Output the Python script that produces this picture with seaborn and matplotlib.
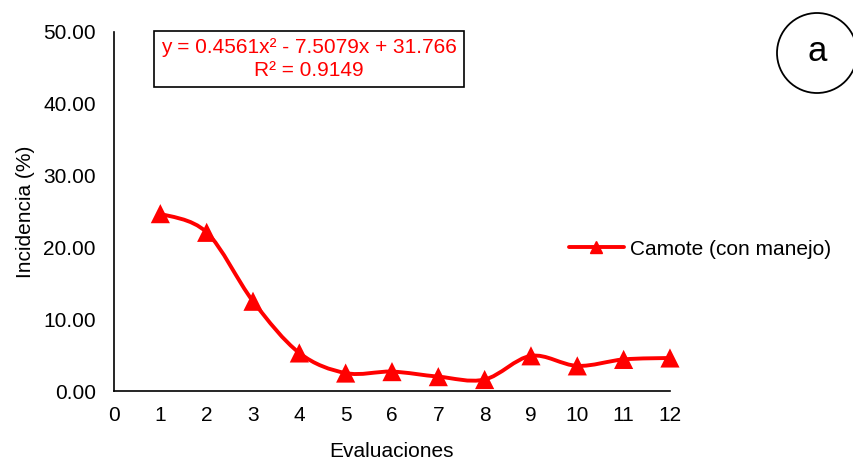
import numpy as np
import pandas as pd
import seaborn as sns
import matplotlib
matplotlib.use("Agg")
import matplotlib.pyplot as plt
from matplotlib.path import Path
from matplotlib.patches import PathPatch, Circle
from matplotlib.lines import Line2D

# Data
evaluaciones = [1, 2, 3, 4, 5, 6, 7, 8, 9, 10, 11, 12]
incidencia = [24.7, 22.1, 12.5, 5.3, 2.5, 2.7, 2.0, 1.6, 4.9, 3.5, 4.4, 4.6]
serie = "Camote (con manejo)"
ecuacion = "y = 0.4561x² - 7.5079x + 31.766\nR² = 0.9149"
y_ticks = [0, 10, 20, 30, 40, 50]
x_ticks = list(range(0, 13))

df = pd.DataFrame({"Evaluaciones": evaluaciones, "Incidencia": incidencia})

sns.set_theme(style="white")
plt.rcParams["font.family"] = ["Liberation Sans", "DejaVu Sans"]
plt.rcParams["text.color"] = "black"
plt.rcParams["axes.labelcolor"] = "black"

FS = 15
LW = 2.8
fig = plt.figure(figsize=(8.54, 4.63), dpi=100)
ax = fig.add_axes([0.1335, 0.1555, 0.651, 0.7754])

# Smoothed connecting line (Catmull-Rom style Bezier segments through the points)
pts = np.column_stack([df["Evaluaciones"].to_numpy(float), df["Incidencia"].to_numpy(float)])
verts = [tuple(pts[0])]
codes = [Path.MOVETO]
n = len(pts)
for i in range(n - 1):
    p0 = pts[i - 1] if i > 0 else pts[i]
    p1 = pts[i]
    p2 = pts[i + 1]
    p3 = pts[i + 2] if i + 2 < n else pts[i + 1]
    c1 = p1 + (p2 - p0) / 6.0
    c2 = p2 - (p3 - p1) / 6.0
    verts += [tuple(c1), tuple(c2), tuple(p2)]
    codes += [Path.CURVE4, Path.CURVE4, Path.CURVE4]
ax.add_patch(PathPatch(Path(verts, codes), fill=False, edgecolor="#ff0000",
                       linewidth=LW, zorder=2, capstyle="round", joinstyle="round",
                       clip_on=False))

sns.scatterplot(data=df, x="Evaluaciones", y="Incidencia", marker="^", s=190,
                color="#ff0000", edgecolor="none", zorder=3, ax=ax, legend=False,
                clip_on=False)

ax.set_xlim(0, 12)
ax.set_ylim(0, 50)
ax.set_xticks(x_ticks)
ax.set_xticklabels([str(t) for t in x_ticks])
ax.set_yticks(y_ticks)
ax.set_yticklabels([f"{t:.2f}" for t in y_ticks])
ax.tick_params(axis="x", labelsize=FS, colors="black", length=0, pad=11)
ax.tick_params(axis="y", labelsize=FS, colors="black", length=0, pad=13)
ax.set_xlabel("Evaluaciones", fontsize=FS, color="black", labelpad=12)
ax.set_ylabel("Incidencia (%)", fontsize=FS, color="black", labelpad=6)

for side in ["top", "right"]:
    ax.spines[side].set_visible(False)
for side in ["left", "bottom"]:
    ax.spines[side].set_color("black")
    ax.spines[side].set_linewidth(1.2)

# Legend
handle = Line2D([0], [0], color="#ff0000", linewidth=LW, marker="^", markersize=9)
ax.legend([handle], [serie], loc="center left", bbox_to_anchor=(0.819, 0.395),
          frameon=False, fontsize=FS, handlelength=2.6, handletextpad=0.3,
          borderpad=0, borderaxespad=0)

# Regression equation box
ax.text(0.351, 0.925, ecuacion, transform=ax.transAxes, ha="center", va="center",
        color="#ff0000", fontsize=FS, linespacing=1.25,
        bbox=dict(boxstyle="square,pad=0.35", fc="white", ec="black", lw=1.2))

# Panel label
fig.patches.append(Circle((8.17, 4.10), 0.40, transform=fig.dpi_scale_trans,
                          fc="white", ec="black", lw=1.3))
fig.text(8.17 / 8.54, 4.11 / 4.63, "a", ha="center", va="center", fontsize=25)

fig.savefig("out.png", dpi=100)
